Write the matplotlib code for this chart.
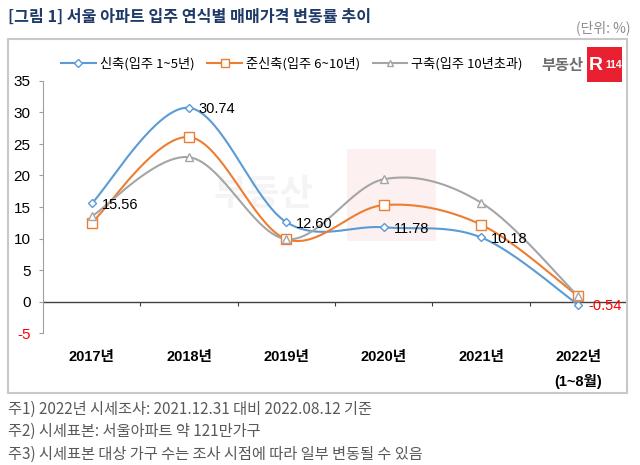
import numpy as np
import matplotlib
matplotlib.use('Agg')
import matplotlib.pyplot as plt
from matplotlib.patches import Rectangle

plt.rcParams['font.family'] = ['Liberation Sans', 'Noto Sans CJK KR', 'DejaVu Sans']
plt.rcParams['axes.unicode_minus'] = False
KR = ['Noto Sans CJK KR', 'DejaVu Sans']

years = ['2017년', '2018년', '2019년', '2020년', '2021년', '2022년\n(1~8월)']
new_build = [15.56, 30.74, 12.60, 11.78, 10.18, -0.54]
semi_new = [12.5, 26.1, 9.9, 15.3, 12.2, 0.8]
old_build = [13.5, 22.9, 9.9, 19.4, 15.7, 0.8]
names = ['신축(입주 1~5년)', '준신축(입주 6~10년)', '구축(입주 10년초과)']
yticks = [-5, 0, 5, 10, 15, 20, 25, 30, 35]


def smooth(x, y, n=40):
    # excel-like smoothed line (catmull-rom bezier)
    p = np.column_stack([x, y]).astype(float)
    out = []
    for i in range(len(p) - 1):
        p0 = p[i - 1] if i > 0 else p[i]
        p1, p2 = p[i], p[i + 1]
        p3 = p[i + 2] if i + 2 < len(p) else p[i + 1]
        c1 = p1 + (p2 - p0) / 6
        c2 = p2 - (p3 - p1) / 6
        t = np.linspace(0, 1, n)[:, None]
        seg = (1 - t) ** 3 * p1 + 3 * (1 - t) ** 2 * t * c1 + 3 * (1 - t) * t ** 2 * c2 + t ** 3 * p2
        out.append(seg if i == 0 else seg[1:])
    s = np.vstack(out)
    return s[:, 0], s[:, 1]


fig = plt.figure(figsize=(6.4, 4.65), dpi=100)
W, H = 640, 465

# frame around the chart
fig.patches.append(Rectangle((8 / W, 1 - 393 / H), 619 / W, 354 / H, transform=fig.transFigure,
                             fill=False, edgecolor='#c8c8c8', linewidth=1.5))

fig.text(8 / W, 1 - 17 / H, '[그림 1] 서울 아파트 입주 연식별 매매가격 변동률 추이', family=KR,
         fontsize=11.6, fontweight='bold', color='#1f3a68', va='center')
fig.text(630 / W, 1 - 28 / H, '(단위: %)', family=KR, fontsize=10, color='#8c8c8c', va='center', ha='right')

ax = fig.add_axes([43 / W, 1 - 333 / H, 584 / W, 252 / H])
x = np.arange(len(years))

# faint watermark
ax.text(1.25, 17.0, '부동산', family=KR, fontsize=26, fontweight='bold', color='#f4f4f4',
        ha='left', va='center', zorder=0)
ax.add_patch(Rectangle((2.62, 9.6), 0.92, 14.6, color='#fdf0f0', zorder=0, linewidth=0))

series = [(new_build, '#5b9bd5', 'D', 4.5), (semi_new, '#ed7d31', 's', 6.5), (old_build, '#a5a5a5', '^', 6)]
handles = []
for (vals, col, mk, ms), name in zip(series, names):
    sx, sy = smooth(x, vals)
    ax.plot(sx, sy, color=col, linewidth=1.5, zorder=3)
    ax.plot(x, vals, linestyle='none', marker=mk, markersize=ms, markerfacecolor='white',
            markeredgecolor=col, markeredgewidth=1, zorder=4)
    h, = ax.plot([], [], color=col, linewidth=1.5, marker=mk, markersize=ms * 0.8,
                 markerfacecolor='white', markeredgecolor=col)
    handles.append(h)

for xi, v in zip(x, new_build):
    ax.annotate(f'{v:.2f}', (xi, v), xytext=(7, -1), textcoords='offset points',
                fontsize=10.5, va='center', ha='left', color='red' if v < 0 else 'black', zorder=5)

ax.set_xlim(-0.5, 5.5)
ax.set_ylim(-5, 35)
for s in ['top', 'right', 'bottom']:
    ax.spines[s].set_visible(False)
ax.spines['left'].set_color('#a0a0a0')
ax.axhline(0, color='#404040', linewidth=1, zorder=2)
ax.vlines(np.arange(0.5, 5, 1), -0.7, 0, color='#404040', linewidth=0.8)

ax.set_yticks(yticks)
ax.tick_params(axis='y', length=3, color='#a0a0a0', pad=6, labelsize=11)
for lab in ax.get_yticklabels():
    if lab.get_text().startswith('-'):
        lab.set_color('red')
ax.set_xticks(x, years)
ax.tick_params(axis='x', length=0, pad=12, labelsize=10.5)
for lab in ax.get_xticklabels():
    lab.set_fontweight('bold')
    lab.set_linespacing(1.9)
    lab.set_verticalalignment('top')

fig.legend(handles, names, loc='center', bbox_to_anchor=(292 / W, 1 - 64 / H), ncol=3,
           frameon=False, prop={'family': KR, 'size': 9.5}, handlelength=2.6,
           columnspacing=1.0, handletextpad=0.3)

# logo
fig.text(583 / W, 1 - 65 / H, '부동산', family=KR, fontsize=11, fontweight='bold', color='#6e6e6e',
         ha='right', va='center')
fig.patches.append(Rectangle((587 / W, 1 - 82 / H), 35 / W, 35 / H, transform=fig.transFigure,
                             facecolor='#e8202f', edgecolor='none'))
fig.text(596 / W, 1 - 65 / H, 'R', fontsize=14, fontweight='bold', color='white', ha='center', va='center')
fig.text(613.5 / W, 1 - 65 / H, '114', fontsize=7.5, fontweight='bold', color='white', ha='center', va='center')

notes = ['주1) 2022년 시세조사: 2021.12.31 대비 2022.08.12 기준',
         '주2) 시세표본: 서울아파트 약 121만가구',
         '주3) 시세표본 대상 가구 수는 조사 시점에 따라 일부 변동될 수 있음']
for i, t in enumerate(notes):
    fig.text(8 / W, 1 - (409 + 22.5 * i) / H, t, family=KR, fontsize=11, color='#595959', va='center')

fig.savefig('out.png', dpi=100)
